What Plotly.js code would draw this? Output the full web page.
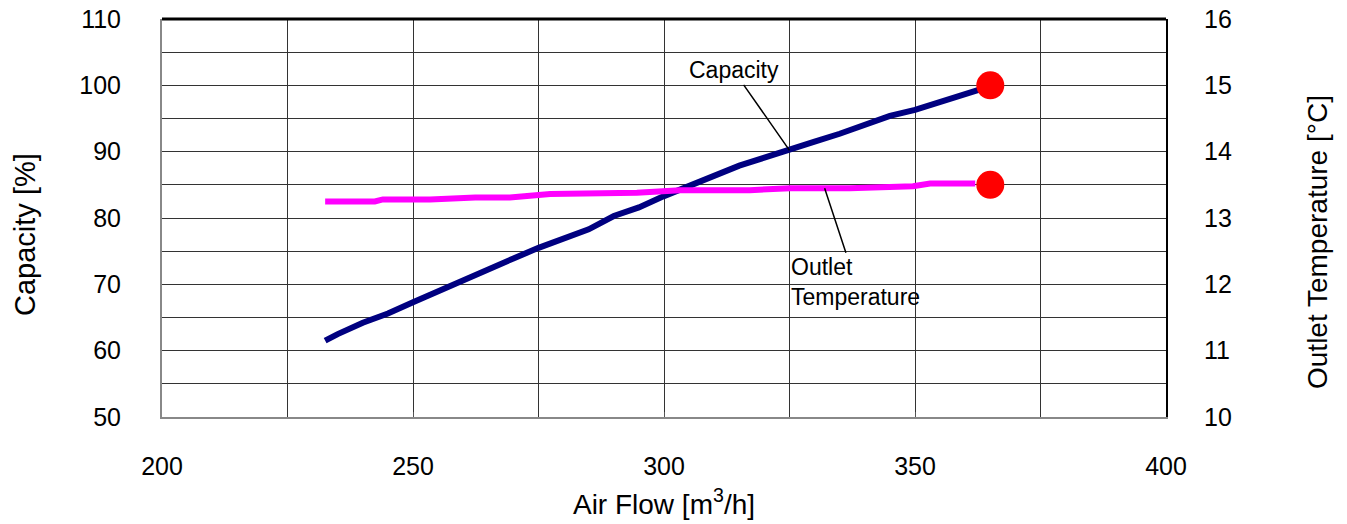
<!DOCTYPE html>
<html>
<head>
<meta charset="utf-8">
<script src="https://cdn.plot.ly/plotly-3.0.1.min.js"></script>
<style>html,body{margin:0;padding:0;background:#fff;}#chart{width:1347px;height:524px;}</style>
</head>
<body>
<div id="chart"></div>
<script>
const capFlow = [232.5, 235, 240, 245, 250, 255, 260, 265, 270, 275, 280, 285, 290, 295, 300, 305, 310, 315, 320, 325, 330, 335, 340, 345, 350, 355, 360, 363];
const capacity = [61.5, 62.5, 64.2, 65.6, 67.3, 69.0, 70.7, 72.3, 73.9, 75.5, 77.0, 78.3, 80.3, 81.6, 83.3, 84.8, 86.2, 87.9, 89.1, 90.2, 91.5, 92.7, 94.0, 95.4, 96.3, 97.5, 98.7, 99.4];
const tempFlow = [232.5, 242.4, 244, 253.4, 262.4, 269.3, 277.3, 287.3, 294.6, 303.2, 317.1, 325.1, 337, 349.6, 353, 362];
const outletTemp = [13.25, 13.25, 13.28, 13.28, 13.31, 13.31, 13.36, 13.37, 13.38, 13.42, 13.42, 13.45, 13.45, 13.48, 13.52, 13.52];
const ratedFlow = [365];
const ratedCapacity = [100];
const ratedTemp = [13.5];

const font = 'Liberation Sans, Arial, sans-serif';

const traces = [
  {x: capFlow, y: capacity, type: 'scatter', mode: 'lines', line: {color: '#000080', width: 6}, yaxis: 'y', hoverinfo: 'skip'},
  {x: tempFlow, y: outletTemp, type: 'scatter', mode: 'lines', line: {color: '#ff00ff', width: 6}, yaxis: 'y2', hoverinfo: 'skip'},
  {x: ratedFlow, y: ratedCapacity, type: 'scatter', mode: 'markers', marker: {color: '#ff0000', size: 28}, yaxis: 'y', cliponaxis: false},
  {x: ratedFlow, y: ratedTemp, type: 'scatter', mode: 'markers', marker: {color: '#ff0000', size: 28}, yaxis: 'y2', cliponaxis: false}
];

const layout = {
  width: 1347, height: 524,
  margin: {l: 162, r: 181, t: 19, b: 107},
  paper_bgcolor: '#fff', plot_bgcolor: '#fff',
  showlegend: false,
  font: {family: font, color: '#000', size: 25},
  xaxis: {
    range: [200, 400], dtick: 50, tick0: 200,
    showgrid: true, gridcolor: '#333', gridwidth: 1,
    minor: {dtick: 25, showgrid: true, gridcolor: '#333', gridwidth: 1},
    zeroline: false, showline: true, linecolor: '#888', linewidth: 2,
    ticks: 'inside', ticklen: 5, tickcolor: '#555',
    ticklabelstandoff: 26,
    tickfont: {size: 25},
    title: {text: 'Air Flow [m<sup>3</sup>/h]', font: {size: 28}, standoff: 15}
  },
  yaxis: {
    range: [50, 110], dtick: 10, tick0: 50,
    showgrid: true, gridcolor: '#333', gridwidth: 1,
    minor: {dtick: 5, showgrid: true, gridcolor: '#333', gridwidth: 1},
    zeroline: false, showline: true, linecolor: '#888', linewidth: 2,
    ticks: 'inside', ticklen: 6, tickcolor: '#333',
    ticklabelstandoff: 34,
    tickfont: {size: 25}
  },
  yaxis2: {
    range: [10, 16], dtick: 1, tick0: 10,
    overlaying: 'y', side: 'right',
    showgrid: false, zeroline: false,
    showline: true, linecolor: '#000', linewidth: 2,
    ticks: 'inside', ticklen: 6, tickcolor: '#333',
    ticklabelstandoff: 31,
    tickfont: {size: 25}
  },
  shapes: [
    {type: 'line', xref: 'paper', yref: 'paper', x0: 0, x1: 1, y0: 1, y1: 1, line: {color: '#000', width: 3}}
  ],
  annotations: [
    {x: -0.1365, y: 0.4598, xref: 'paper', yref: 'paper', text: 'Capacity [%]', textangle: -90, showarrow: false,
     xanchor: 'center', yanchor: 'middle', font: {size: 29, family: font}},
    {x: 1.1514, y: 0.4397, xref: 'paper', yref: 'paper', text: 'Outlet Temperature [°C]', textangle: -90, showarrow: false,
     xanchor: 'center', yanchor: 'middle', font: {size: 28, family: font}},
    {x: 325, y: 90.2, xref: 'x', yref: 'y', text: 'Capacity', showarrow: true, arrowhead: 0, arrowwidth: 1.5, arrowcolor: '#000',
     ax: -56, ay: -80, font: {size: 23, family: font}, standoff: 0},
    {x: 332, y: 13.45, xref: 'x', yref: 'y2', text: 'Outlet<br>Temperature', align: 'left', showarrow: true, arrowhead: 0, arrowwidth: 1.5, arrowcolor: '#000',
     ax: 31, ay: 94, font: {size: 23, family: font}, standoff: 0}
  ]
};

Plotly.newPlot('chart', traces, layout, {staticPlot: true, displayModeBar: false});
</script>
</body>
</html>
